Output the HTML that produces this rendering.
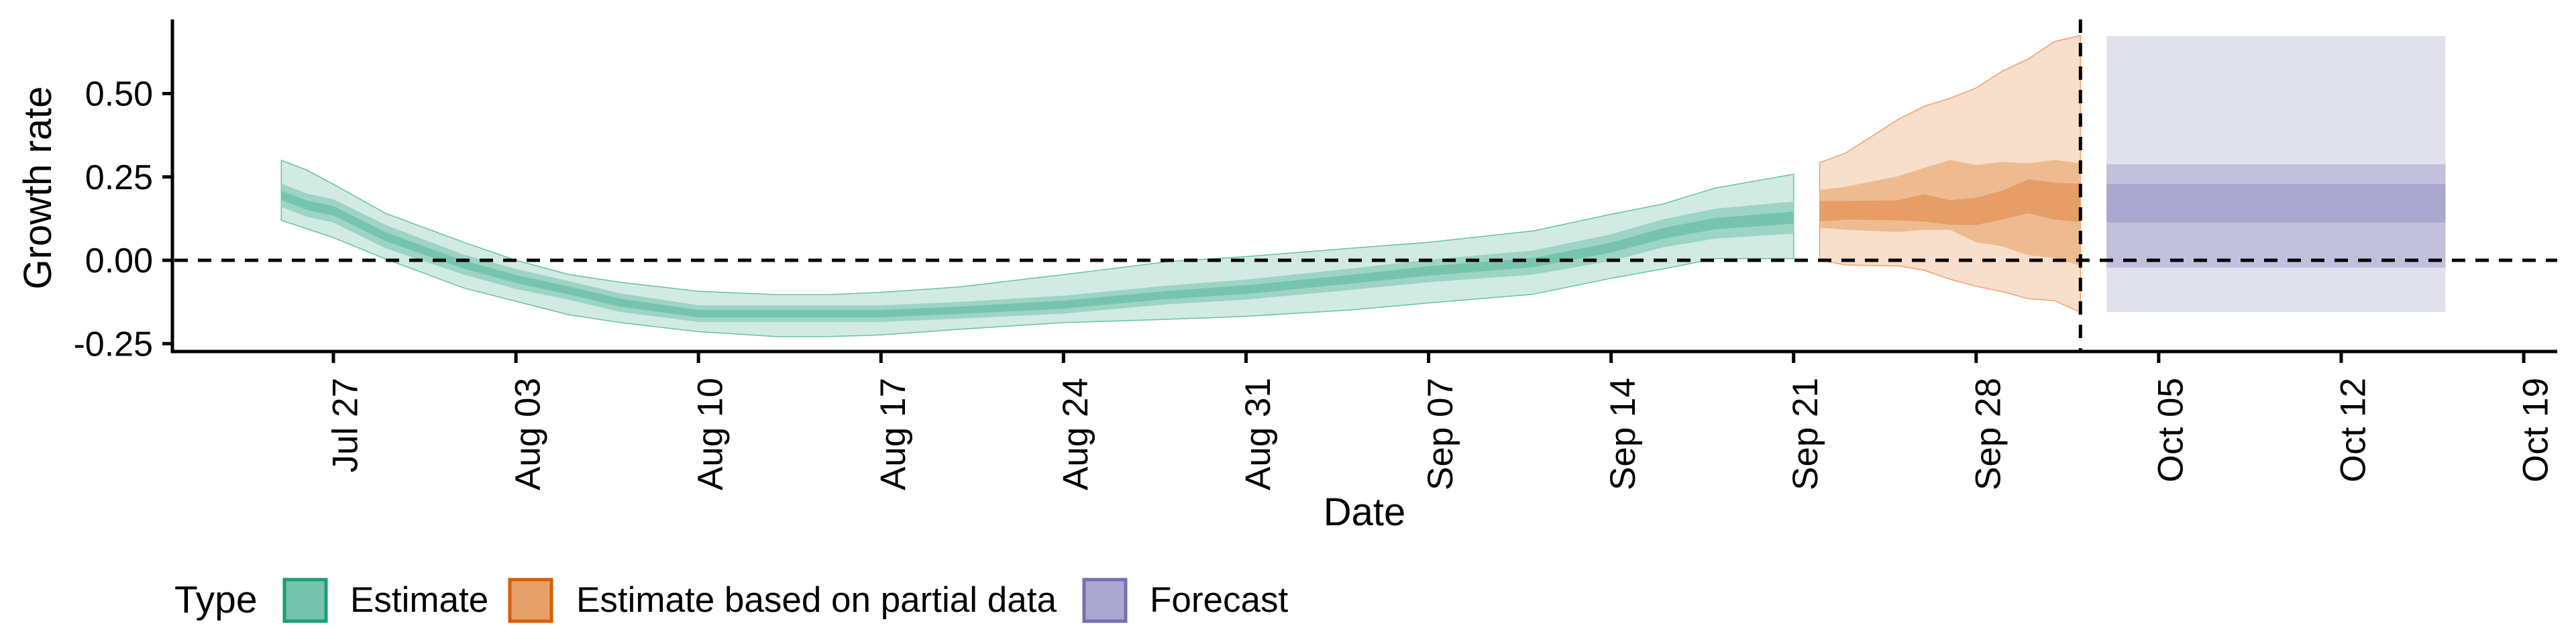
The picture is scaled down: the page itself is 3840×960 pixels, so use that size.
<!DOCTYPE html>
<html><head><meta charset="utf-8"><style>
html,body{margin:0;padding:0;background:#fff;}
svg{display:block;font-family:"Liberation Sans",sans-serif;}
</style></head><body>
<svg id="chart" width="3840" height="960" viewBox="0 0 3840 960">
<g id="bands"></g>
<g id="axes"></g>
<g id="legend">
  <text x="260" y="913" font-size="57">Type</text>
  <rect x="424" y="864" width="62" height="62" fill="#76c4ad" stroke="#1b9e77" stroke-width="5"/>
  <text x="522" y="912" font-size="53">Estimate</text>
  <rect x="760" y="864" width="62" height="62" fill="#e6a06a" stroke="#d95f02" stroke-width="5"/>
  <text x="859" y="912" font-size="53">Estimate based on partial data</text>
  <rect x="1616" y="864" width="62" height="62" fill="#aaa8ce" stroke="#7570b3" stroke-width="5"/>
  <text x="1714" y="912" font-size="53">Forecast</text>
</g>
</svg>
<script>
// day offsets from Jul 25
const estDays   = [0,1,2,4,7,9,11,13,16,19,21,23,26,30,34,37,41,44,48,51,53,55,58];
const estMedian = [0.195,0.165,0.148,0.071,-0.013,-0.056,-0.09,-0.127,-0.16,-0.16,-0.16,-0.16,-0.15,-0.133,-0.104,-0.088,-0.057,-0.032,-0.007,0.038,0.081,0.11,0.128];
const estLo90   = [0.12,0.094,0.068,0.004,-0.083,-0.123,-0.163,-0.187,-0.214,-0.229,-0.229,-0.224,-0.207,-0.187,-0.177,-0.168,-0.149,-0.128,-0.102,-0.054,-0.026,0.005,0.005];
const estHi90   = [0.30,0.27,0.228,0.141,0.054,0.0,-0.042,-0.066,-0.093,-0.103,-0.103,-0.096,-0.08,-0.043,-0.004,0.011,0.036,0.054,0.088,0.138,0.169,0.217,0.258];
const estHalf50 = [0.035,0.035,0.035,0.035,0.03,0.03,0.028,0.028,0.025,0.025,0.025,0.025,0.025,0.027,0.028,0.03,0.032,0.034,0.036,0.04,0.042,0.045,0.048];
const estHalf20 = [0.014,0.014,0.014,0.013,0.012,0.012,0.012,0.012,0.011,0.011,0.011,0.011,0.011,0.012,0.012,0.013,0.013,0.014,0.014,0.015,0.016,0.017,0.018];

const partDays  = [59,60,62,63,64,65,66,67,68,69];
const partHi90  = [0.293,0.322,0.422,0.462,0.486,0.517,0.567,0.604,0.656,0.674];
const partLo90  = [0.0,-0.014,-0.017,-0.03,-0.057,-0.078,-0.094,-0.115,-0.121,-0.156];
const partHi50  = [0.211,0.221,0.252,0.277,0.301,0.286,0.295,0.291,0.301,0.291];
const partLo50  = [0.098,0.091,0.085,0.091,0.091,0.054,0.042,0.015,0.007,-0.017];
const partHi20  = [0.178,0.178,0.18,0.198,0.18,0.188,0.209,0.243,0.233,0.23];
const partLo20  = [0.116,0.122,0.12,0.116,0.106,0.106,0.122,0.141,0.122,0.114];

const fcStart = 70, fcEnd = 83;
const fcBands = [[-0.155,0.672],[-0.022,0.288],[0.113,0.229]];

const yTicks = [0.5,0.25,0,-0.25];
const yTickLabels = ["0.50","0.25","0.00","-0.25"];
const xTickDays = [2,9,16,23,30,37,44,51,58,65,72,79,86];
const xTickLabels = ["Jul 27","Aug 03","Aug 10","Aug 17","Aug 24","Aug 31","Sep 07","Sep 14","Sep 21","Sep 28","Oct 05","Oct 12","Oct 19"];
const splitDay = 69;

const NS="http://www.w3.org/2000/svg";
function X(d){return 497+(d-2)*38.87;}
function Y(v){return 388-v*497;}
function mk(tag,attrs,parent){const e=document.createElementNS(NS,tag);for(const k in attrs)e.setAttribute(k,attrs[k]);parent.appendChild(e);return e;}
const bands=document.getElementById('bands'), axes=document.getElementById('axes');
function area(days,lo,hi,fill,stroke,name){
  let p=days.map((d,i)=>(i?'L':'M')+X(d).toFixed(1)+','+Y(hi[i]).toFixed(1)).join('');
  for(let i=days.length-1;i>=0;i--)p+='L'+X(days[i]).toFixed(1)+','+Y(lo[i]).toFixed(1);
  const e=mk('path',{d:p+'Z',fill:fill,stroke:stroke||'none','stroke-width':stroke?1.5:0},bands);
  
  
}
area(estDays,estLo90,estHi90,'#d1ebe2','#66c2a5','estimate-band-90');
area(estDays,estMedian.map((m,i)=>m-estHalf50[i]),estMedian.map((m,i)=>m+estHalf50[i]),'#9dd4c3',null,'estimate-band-50');
area(estDays,estMedian.map((m,i)=>m-estHalf20[i]),estMedian.map((m,i)=>m+estHalf20[i]),'#76c4ad',null,'estimate-band-20');
area(partDays,partLo90,partHi90,'#f8dfcb','#f0a070','partial-band-90');
area(partDays,partLo50,partHi50,'#eebb90',null,'partial-band-50');
area(partDays,partLo20,partHi20,'#e69e66',null,'partial-band-20');
const fcFills=['#e1e1ee','#c3c0dd','#aaa8ce'];
fcBands.forEach((b,i)=>{
  const r=mk('rect',{x:X(fcStart),y:Y(b[1]),width:X(fcEnd)-X(fcStart),height:Y(b[0])-Y(b[1]),fill:fcFills[i]},bands);
  
  
});
const z=mk('line',{x1:260,x2:3812,y1:Y(0),y2:Y(0),stroke:'#000','stroke-width':5,'stroke-dasharray':'20,15'},axes);


const v=mk('line',{x1:X(splitDay),x2:X(splitDay),y1:29,y2:524,stroke:'#000','stroke-width':5,'stroke-dasharray':'20,15'},axes);


const ya=mk('line',{x1:257,x2:257,y1:29,y2:526,stroke:'#000','stroke-width':5},axes);


const xa=mk('line',{x1:255,x2:3812,y1:524,y2:524,stroke:'#000','stroke-width':5},axes);


yTicks.forEach((t,i)=>{
  mk('line',{x1:242,x2:257,y1:Y(t),y2:Y(t),stroke:'#000','stroke-width':5},axes);
  const tx=mk('text',{x:228,y:Y(t)+18,'font-size':52,'text-anchor':'end'},axes);
  tx.textContent=yTickLabels[i];
  
  
});
xTickDays.forEach((d,i)=>{
  const x=X(d);
  mk('line',{x1:x,x2:x,y1:524,y2:541,stroke:'#000','stroke-width':5},axes);
  const tx=mk('text',{x:0,y:0,'font-size':53,'text-anchor':'end',transform:'translate('+(x+18)+',563) rotate(-90)','dominant-baseline':'central'},axes);
  tx.textContent=xTickLabels[i];
  
  
});
const xt=mk('text',{x:2034,y:783,'font-size':58,'text-anchor':'middle'},axes);
xt.textContent='Date';


const yt=mk('text',{x:0,y:0,'font-size':58,'text-anchor':'middle',transform:'translate(76,280) rotate(-90)'},axes);
yt.textContent='Growth rate';


</script>
</body></html>
